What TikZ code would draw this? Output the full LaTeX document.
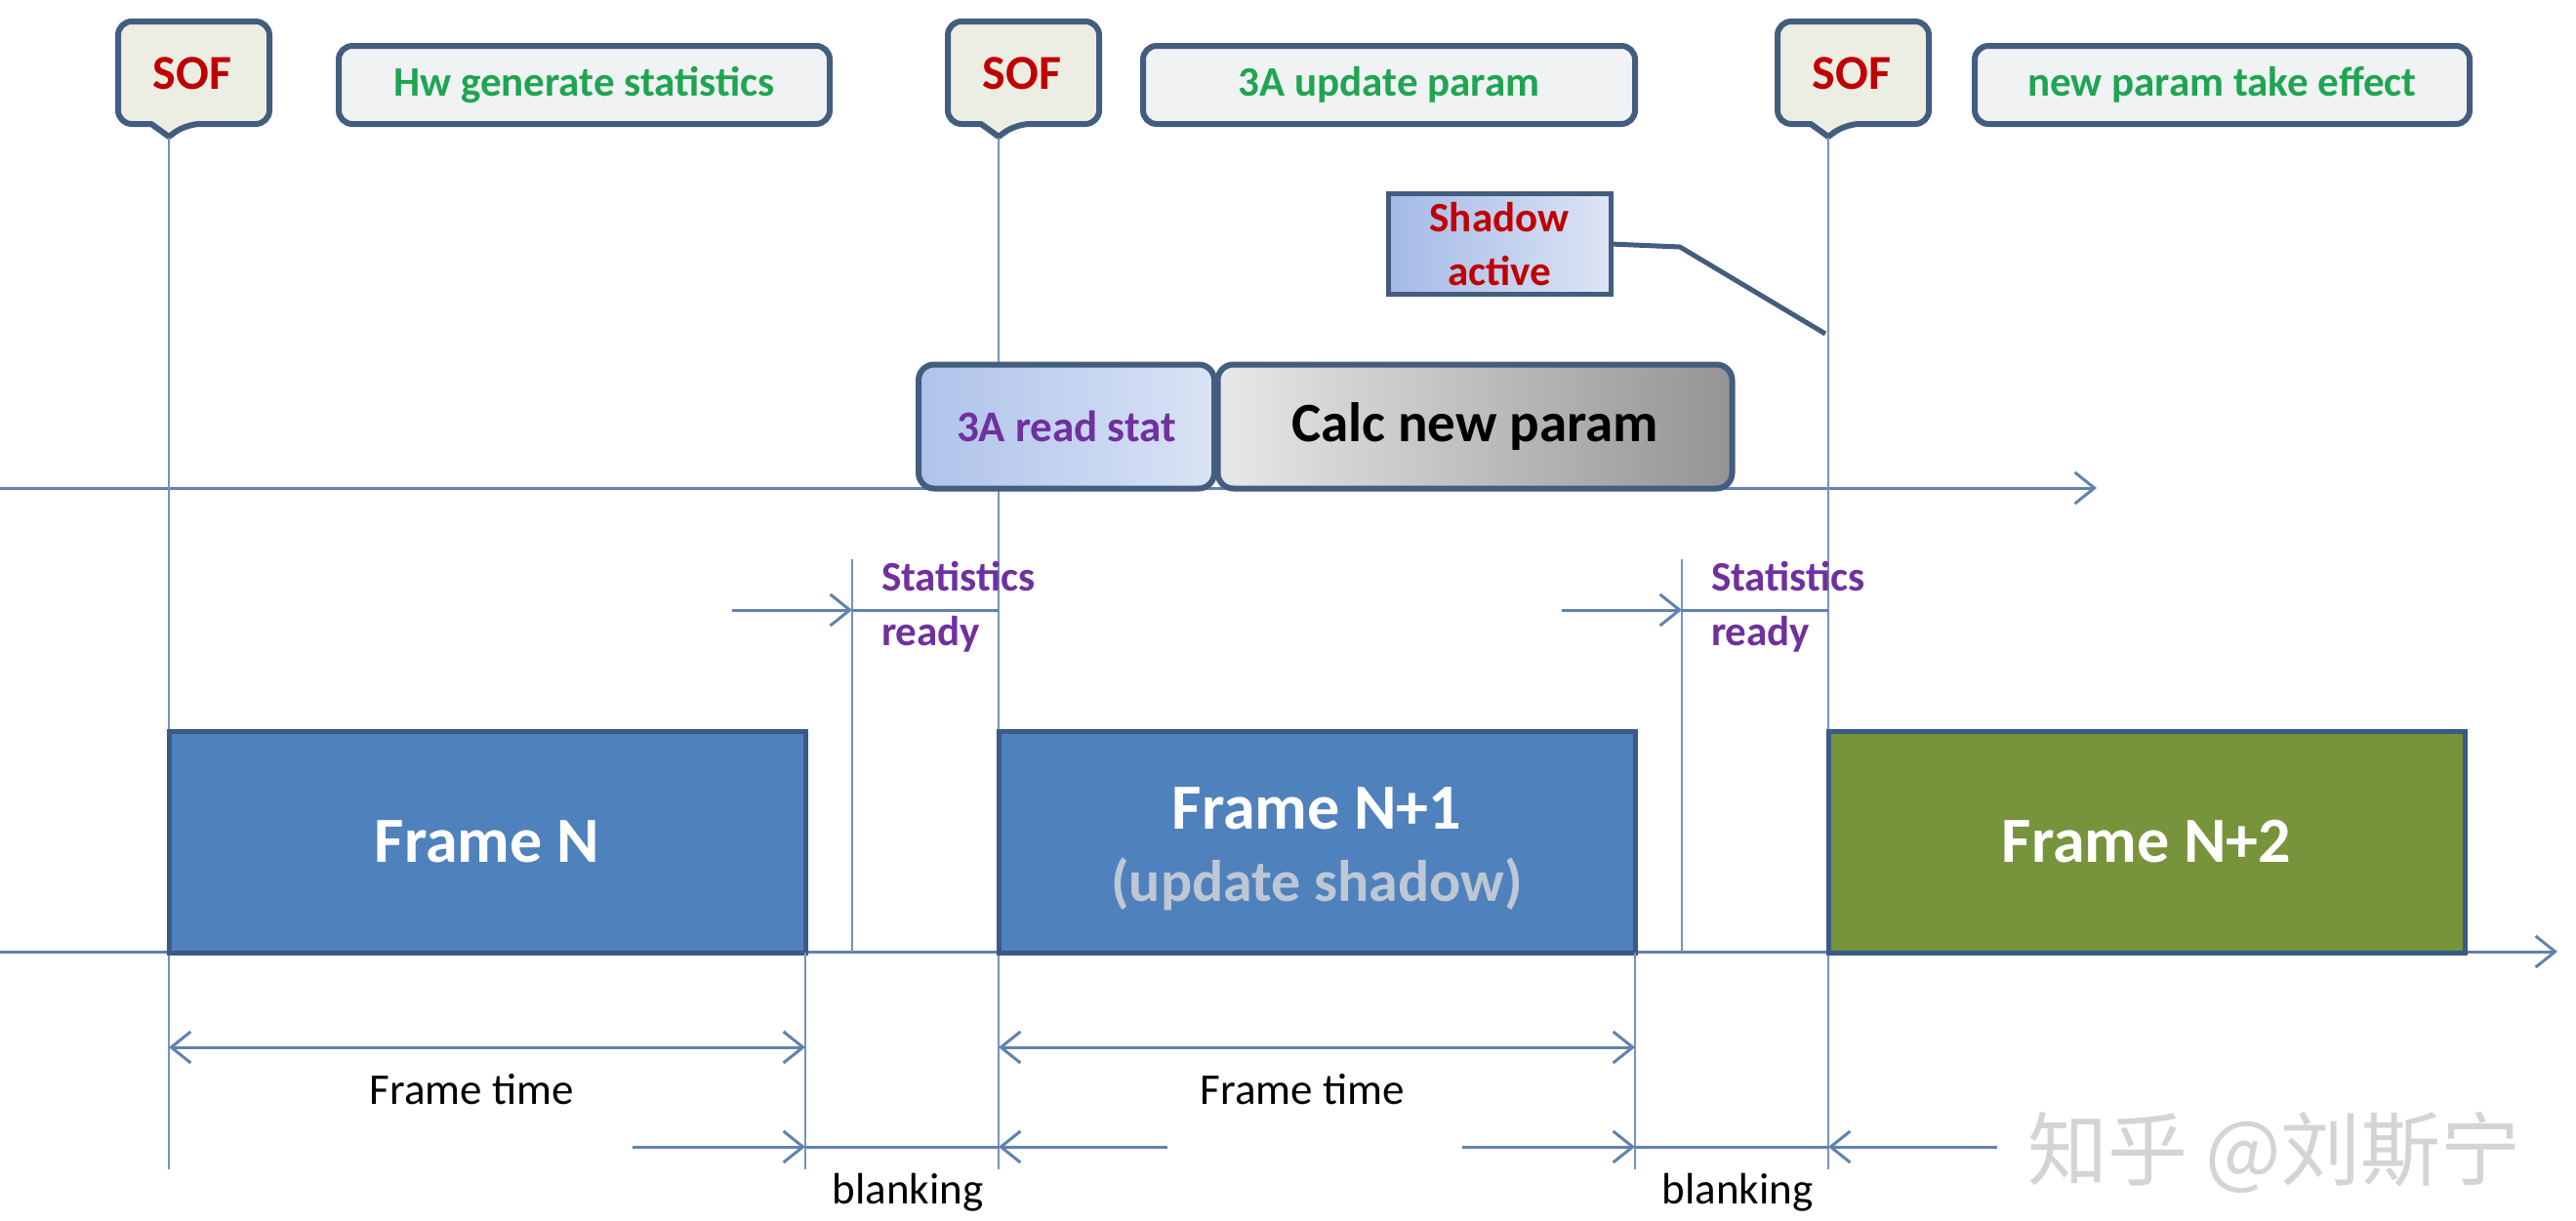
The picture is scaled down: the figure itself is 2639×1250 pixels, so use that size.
\documentclass[tikz,border=0pt]{standalone}
\usepackage{fontspec}
\setmainfont{Carlito}
\newfontfamily\cjkfont{Noto Sans CJK SC}
\usetikzlibrary{arrows.meta,calc}
\definecolor{bord}{HTML}{435D7F}
\definecolor{thinl}{HTML}{7592BD}
\definecolor{axisc}{HTML}{6282AE}
\definecolor{sofred}{HTML}{C00000}
\definecolor{grn}{HTML}{1FA552}
\definecolor{purp}{HTML}{7030A0}
\definecolor{fblue}{HTML}{4F81BD}
\definecolor{fgreen}{HTML}{77933C}
\definecolor{fbord}{HTML}{3B5A85}
\definecolor{lblfill}{HTML}{F1F2F4}
\definecolor{soffill}{HTML}{EDEEE3}
\definecolor{updgray}{HTML}{BEC7D4}
\definecolor{shl}{HTML}{A3B9E6}
\definecolor{shr}{HTML}{DDE5F5}
\definecolor{rdl}{HTML}{AFC3EA}
\definecolor{rdr}{HTML}{D9E3F5}
\definecolor{wmark}{HTML}{D4D4D4}
\begin{document}
\begin{tikzpicture}[x=1pt,y=-1pt,
  every node/.style={inner sep=0pt,outer sep=0pt},
  chev/.tip={Straight Barb[length=20pt,width=32pt]},
  axisline/.style={draw=axisc,line width=3pt},
  thin/.style={draw=thinl,line width=2pt},
  dimline/.style={draw=axisc,line width=3pt},
  sofshape/.style={draw=bord,line width=6pt,fill=soffill,line join=round},
  softext/.style={text=sofred,font=\bfseries\fontsize{50}{54}\selectfont},
  toplbl/.style={draw=bord,line width=6pt,rounded corners=14pt,fill=lblfill,text=grn,
    font=\bfseries\fontsize{43}{50}\selectfont,minimum height=80pt},
  framebox/.style={draw=fbord,line width=5pt,text=white,align=center,
    font=\bfseries\fontsize{66}{74}\selectfont,minimum width=652pt,minimum height=227pt},
  procbox/.style={draw=bord,line width=6pt,rounded corners=16pt,minimum height=127pt},
  stattext/.style={text=purp,font=\bfseries\fontsize{43}{50}\selectfont,anchor=base west},
  dimtext/.style={text=black,font=\fontsize{45}{50}\selectfont,anchor=base}
]
\useasboundingbox (0,0) rectangle (2639,1250);
\fill[white] (0,0) rectangle (2639,1250);

% ---------- axes ----------
\coordinate (ta0) at (0,500);
\coordinate (ta1) at (2148,500);
\coordinate (ba0) at (0,975);
\coordinate (ba1) at (2620,975);
\draw[axisline,-chev] (ta0) -- (ta1);
\draw[axisline,-chev] (ba0) -- (ba1);

% ---------- SOF callouts and lines ----------
\foreach \X/\n in {173/1,1023/2,1873/3}{
  \draw[sofshape] (\X+25,22) [rounded corners=14pt] -- (\X+103,22) -- (\X+103,127) -- (\X+18,127)
     [sharp corners] -- (\X,140) -- (\X-18,127) [rounded corners=14pt] -- (\X-52,127) -- (\X-52,22) -- cycle;
  \node[softext] (sof\n) at (\X+24,75) {SOF};
  \coordinate (sofT\n) at (\X,141);
  \coordinate (sofB\n) at (\X,1198);
  \draw[thin] (sofT\n) -- (sofB\n);
}

% ---------- top labels ----------
\node[toplbl,minimum width=503pt] (hw) at (598.5,87) {Hw generate statistics};
\node[toplbl,minimum width=504pt] (upd) at (1423,87) {3A update param};
\node[toplbl,minimum width=507pt] (eff) at (2276.5,87) {new param take effect};

% ---------- shadow active ----------
\node[draw=bord,line width=5pt,left color=shl,right color=shr,text=sofred,align=center,
  font=\bfseries\fontsize{43}{55}\selectfont,minimum width=228pt,minimum height=103pt]
  (shadow) at (1536,250) {Shadow\\active};
\coordinate (shbend) at (1721,253);
\coordinate (shend) at (1870,342);
\draw[draw=bord,line width=5pt] (shadow.east) -- (shbend) -- (shend);

% ---------- stats ready marks ----------
\coordinate (r1top) at (873,573);
\coordinate (r1bot) at (873,975);
\coordinate (r2top) at (1723,573);
\coordinate (r2bot) at (1723,975);
\draw[thin] (r1top) -- (r1bot);
\draw[thin] (r2top) -- (r2bot);
\coordinate (s1a) at (750,625);
\coordinate (s1b) at (873,625);
\coordinate (s1c) at (1023,625);
\coordinate (s2a) at (1600,625);
\coordinate (s2b) at (1723,625);
\coordinate (s2c) at (1873,625);
\draw[dimline,-chev] (s1a) -- (s1b);
\draw[dimline] (s1b) -- (s1c);
\draw[dimline,-chev] (s2a) -- (s2b);
\draw[dimline] (s2b) -- (s2c);
\node[stattext] (st1) at (903,605) {Statistics};
\node[stattext] (rd1) at (903,661) {ready};
\node[stattext] (st2) at (1753,605) {Statistics};
\node[stattext] (rd2) at (1753,661) {ready};

% ---------- process boxes ----------
\node[procbox,minimum width=303pt,left color=rdl,right color=rdr,text=purp,
  font=\bfseries\fontsize{45}{50}\selectfont] (read) at (1092.5,437) {3A read stat};
\node[procbox,minimum width=527pt,left color=black!9,right color=black!42,text=black,
  font=\bfseries\fontsize{57}{60}\selectfont] (calc) at (1511,437) {Calc new param};

% ---------- frames ----------
\node[framebox,fill=fblue] (fN) at (499,862.5) {Frame N};
\node[framebox,fill=fblue] (fN1) at (1349,862.5) {};
\node[text=white,align=center,font=\bfseries\fontsize{66}{74}\selectfont] (fN1t) at (1349,870)
  {Frame N+1\\[0pt]{\color{updgray}\fontsize{60}{74}\selectfont(update shadow)}};
\node[framebox,fill=fgreen] (fN2) at (2199,862.5) {Frame N+2};

% ---------- lower vertical lines ----------
\coordinate (e1top) at (825,976);
\coordinate (e1bot) at (825,1198);
\coordinate (e2top) at (1675,976);
\coordinate (e2bot) at (1675,1198);
\draw[thin] (e1top) -- (e1bot);
\draw[thin] (e2top) -- (e2bot);

% ---------- frame time ----------
\coordinate (ft1a) at (173,1073);
\coordinate (ft1b) at (825,1073);
\coordinate (ft2a) at (1023,1073);
\coordinate (ft2b) at (1675,1073);
\draw[dimline,chev-chev] (ft1a) -- (ft1b);
\draw[dimline,chev-chev] (ft2a) -- (ft2b);
\node[dimtext] (ftt1) at (483,1131) {Frame time};
\node[dimtext] (ftt2) at (1334,1131) {Frame time};

% ---------- blanking ----------
\coordinate (b1a) at (648,1175);
\coordinate (b1b) at (825,1175);
\coordinate (b1c) at (1023,1175);
\coordinate (b1d) at (1196,1175);
\coordinate (b2a) at (1498,1175);
\coordinate (b2b) at (1675,1175);
\coordinate (b2c) at (1873,1175);
\coordinate (b2d) at (2046,1175);
\draw[dimline,-chev] (b1a) -- (b1b);
\draw[dimline] (b1b) -- (b1c);
\draw[dimline,-chev] (b1d) -- (b1c);
\draw[dimline,-chev] (b2a) -- (b2b);
\draw[dimline] (b2b) -- (b2c);
\draw[dimline,-chev] (b2d) -- (b2c);
\node[dimtext] (bl1) at (930,1233) {blanking};
\node[dimtext] (bl2) at (1780,1233) {blanking};

% ---------- watermark ----------
\node[text=wmark,font=\cjkfont\fontsize{82}{82}\selectfont] (wm) at (2330,1181) {知乎 @刘斯宁};
\end{tikzpicture}
\end{document}
